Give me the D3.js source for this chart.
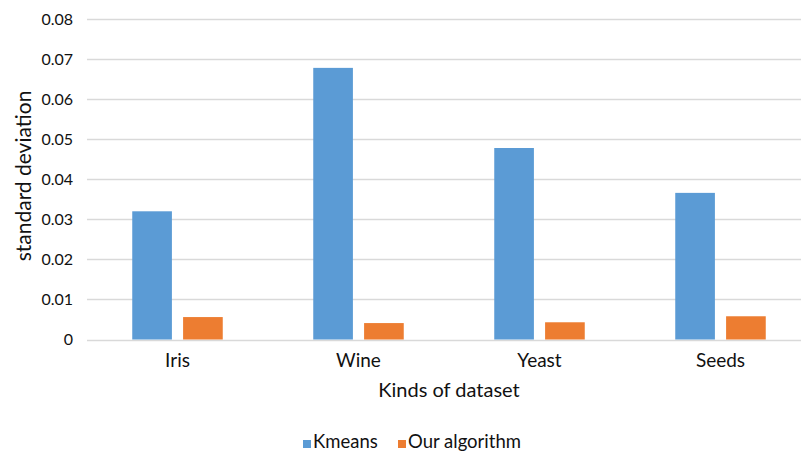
<!DOCTYPE html>
<html>
<head>
<meta charset="utf-8">
<script src="https://cdn.jsdelivr.net/npm/d3@7"></script>
<style>
  html, body { margin: 0; padding: 0; background: #fff; }
  svg { display: block; }
  text { font-family: Lato, "Open Sans", sans-serif; fill: #111; }
</style>
</head>
<body>
<svg id="chart" width="801" height="457"></svg>
<script>
// Datasets on the x axis
const categories = ["Iris", "Wine", "Yeast", "Seeds"];
// Series names (legend order)
const seriesNames = ["Kmeans", "Our algorithm"];
// Standard deviation per dataset
const kmeansValues = [0.032, 0.0678, 0.0478, 0.0366];
const oursValues = [0.0056, 0.0041, 0.0043, 0.0058];
// Y axis ticks
const yTicks = [0, 0.01, 0.02, 0.03, 0.04, 0.05, 0.06, 0.07, 0.08];
const yTickLabels = ["0", "0.01", "0.02", "0.03", "0.04", "0.05", "0.06", "0.07", "0.08"];

const colors = { "Kmeans": "#5b9bd5", "Our algorithm": "#ed7d31" };

const rows = categories.map((c, i) => ({
  category: c,
  values: [
    { series: seriesNames[0], value: kmeansValues[i] },
    { series: seriesNames[1], value: oursValues[i] }
  ]
}));

const svg = d3.select("#chart");
const plot = { left: 87, right: 811, top: 19, bottom: 339.5 };

const x0 = d3.scaleBand().domain(categories).range([plot.left, plot.right]).paddingInner(0.5).paddingOuter(0.25);
const x1 = d3.scaleBand().domain(seriesNames).range([0, x0.bandwidth()]).paddingInner(0.22).paddingOuter(0);
const y = d3.scaleLinear().domain([0, 0.08]).range([plot.bottom, plot.top]);

// Horizontal gridlines
svg.append("g")
  .selectAll("line")
  .data(yTicks)
  .join("line")
  .attr("x1", plot.left).attr("x2", plot.right)
  .attr("y1", d => Math.round(y(d)) + 0.5).attr("y2", d => Math.round(y(d)) + 0.5)
  .attr("stroke", "#d9d9d9")
  .attr("stroke-width", 1.6);

// Y axis labels
const yAxis = d3.axisLeft(y)
  .tickValues(yTicks)
  .tickFormat((d, i) => yTickLabels[i])
  .tickSize(0)
  .tickPadding(14);
const yG = svg.append("g").attr("transform", `translate(${plot.left},0)`).call(yAxis);
yG.select(".domain").remove();
yG.selectAll("text").style("font-family", "Lato, sans-serif").style("font-size", "16px").attr("fill", "#111");

// Bars
const groups = svg.append("g")
  .selectAll("g")
  .data(rows)
  .join("g")
  .attr("transform", d => `translate(${x0(d.category)},0)`);

groups.selectAll("rect")
  .data(d => d.values)
  .join("rect")
  .attr("x", d => x1(d.series))
  .attr("width", x1.bandwidth())
  .attr("y", d => y(d.value))
  .attr("height", d => y(0) - y(d.value))
  .attr("fill", d => colors[d.series]);

// X axis labels
const xAxis = d3.axisBottom(x0).tickSize(0).tickPadding(14);
const xG = svg.append("g").attr("transform", `translate(0,${plot.bottom})`).call(xAxis);
xG.select(".domain").remove();
xG.selectAll("text").style("font-family", "Lato, sans-serif").style("font-size", "19px").attr("fill", "#111");

// Axis titles
svg.append("text")
  .attr("x", 449)
  .attr("y", 397)
  .attr("text-anchor", "middle")
  .style("font-size", "20px")
  .text("Kinds of dataset");

svg.append("text")
  .attr("transform", "translate(31,176) rotate(-90)")
  .attr("text-anchor", "middle")
  .style("font-size", "21px")
  .text("standard deviation");

// Legend
const legend = svg.append("g").attr("transform", "translate(303,448)");
const legendX = [0, 95];
seriesNames.forEach((s, i) => {
  const g = legend.append("g").attr("transform", `translate(${legendX[i]},0)`);
  g.append("rect").attr("x", 0).attr("y", -8).attr("width", 8).attr("height", 8).attr("fill", colors[s]);
  g.append("text").attr("x", 10).attr("y", 0).style("font-size", "18.5px").text(s);
});
</script>
</body>
</html>
